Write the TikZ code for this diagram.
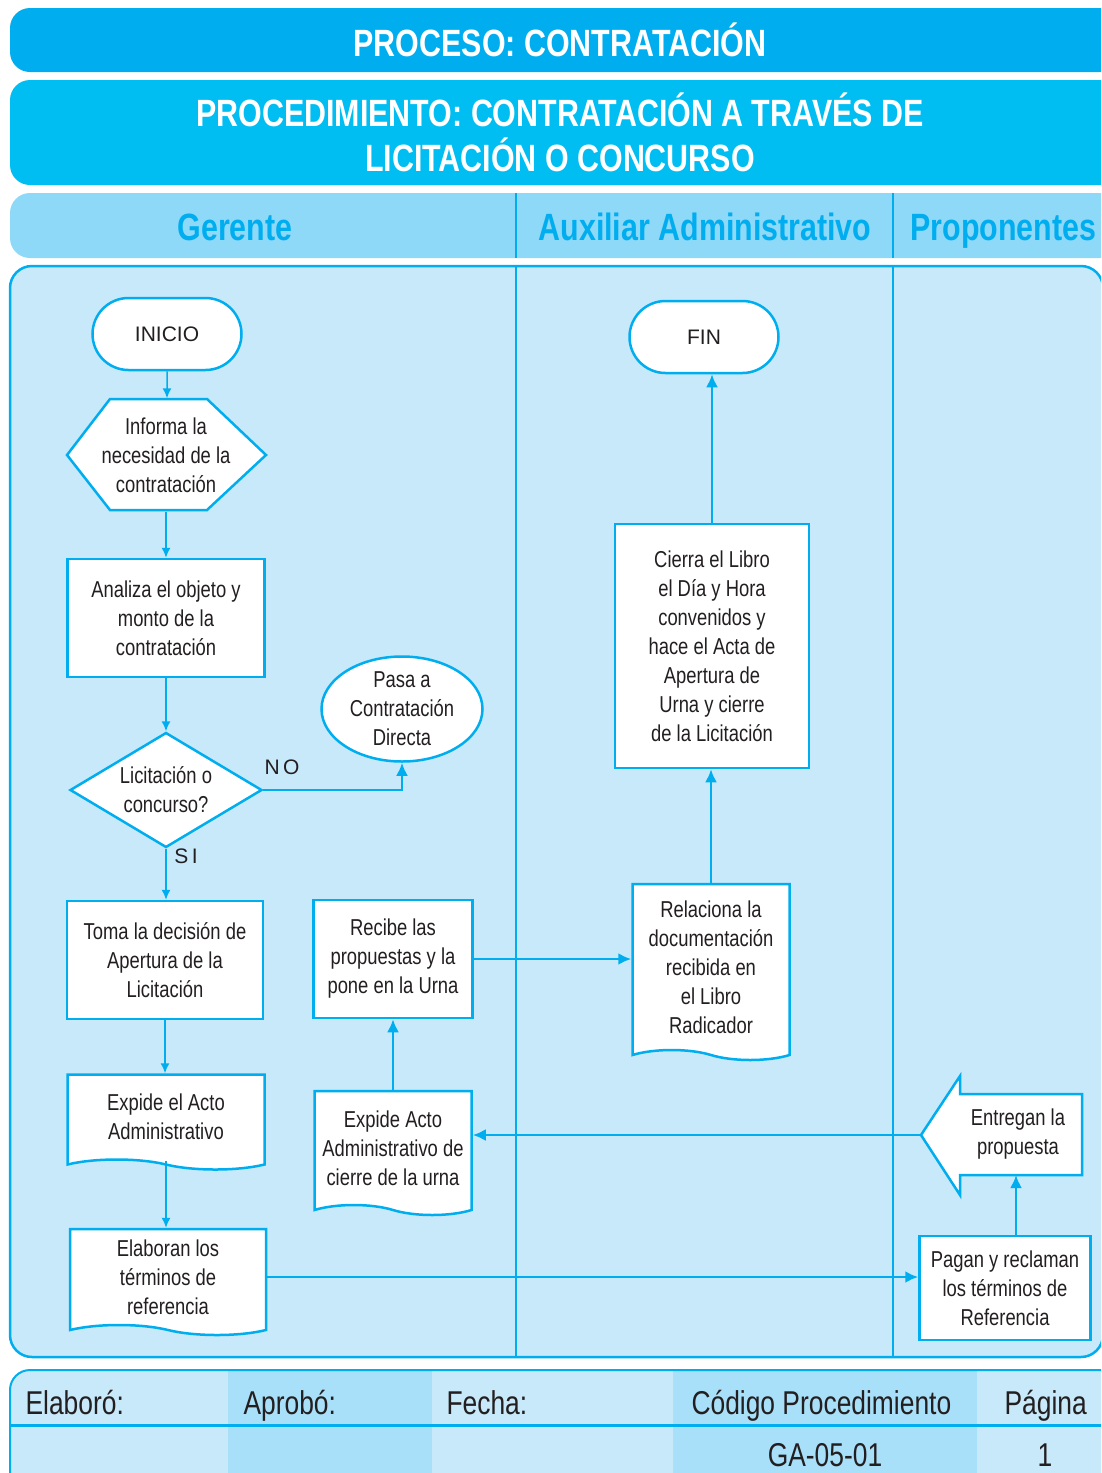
\documentclass[tikz,border=0pt]{standalone}
\usepackage{fontspec}
\setmainfont[FakeStretch=0.8]{Liberation Sans}
\newfontfamily\plainfont{Liberation Sans}
\usetikzlibrary{shapes.geometric,shapes.misc,shapes.symbols,arrows.meta}

\definecolor{cyanline}{HTML}{00AEEF}
\definecolor{headblue}{HTML}{00BEF2}
\definecolor{laneblue}{HTML}{8ED8F8}
\definecolor{bodyblue}{HTML}{C7E9FA}
\definecolor{cellblue}{HTML}{A9E0F9}
\definecolor{ink}{HTML}{231F20}

\newcommand{\flowtext}{\fontsize{23}{29}\selectfont}
\newcommand{\termtext}{\plainfont\fontsize{21}{25}\selectfont}
\newcommand{\headtext}{\bfseries\fontsize{38}{45}\selectfont}
\newcommand{\foottext}{\fontsize{33}{38}\selectfont}

\tikzset{
  box/.style={draw=cyanline, line width=2.5pt, fill=white, align=center,
    text=ink, font=\flowtext, inner sep=0pt},
  term/.style={box, rounded rectangle, minimum width=149pt, minimum height=72pt, font=\termtext},
  proc/.style={box, rectangle},
  doc/.style={box, tape, tape bend top=none, tape bend bottom=out and in, tape bend height=10pt},
  flow/.style={cyanline, line width=2.5pt, -{Latex[length=13pt,width=12pt]}},
  thinflow/.style={cyanline, line width=1.5pt, -{Latex[length=10pt,width=9pt]}},
  lanehead/.style={text=cyanline, font=\headtext, anchor=base},
  label/.style={text=ink, font=\termtext},
  foot/.style={text=ink, font=\foottext, anchor=base west},
}

\begin{document}
\begin{tikzpicture}[x=1pt,y=-1pt]
\useasboundingbox (0,0) rectangle (1101,1473);
\clip (0,0) rectangle (1101,1473);

% title bands
\fill[cyanline, rounded corners=20pt] (10,8) rectangle (1120,72);
\node[text=white, font=\headtext] (proceso) at (560,40) {PROCESO: CONTRATACIÓN};
\fill[headblue, rounded corners=20pt] (10,80) rectangle (1120,185);
\node[text=white, font=\headtext, align=center] (procedimiento) at (560,132)
  {PROCEDIMIENTO: CONTRATACIÓN A TRAVÉS DE\\LICITACIÓN O CONCURSO};

% lanes
\fill[laneblue, rounded corners=20pt] (10,193) rectangle (1120,258);
\draw[cyanline, line width=2.5pt, fill=bodyblue, rounded corners=22pt] (10,266) rectangle (1103,1357);
\foreach \x in {516,893} {
  \draw[cyanline, line width=2pt] (\x,193) -- (\x,258);
  \draw[cyanline, line width=2.5pt] (\x,266) -- (\x,1357);
}
\node[lanehead] (gerente) at (235,240) {Gerente};
\node[lanehead] (auxiliar) at (705,240) {Auxiliar Administrativo};
\node[lanehead, anchor=base west] (proponentes) at (907,240) {Proponentes};

% Gerente
\node[term] (inicio) at (167,334) {INICIO};
\draw[box] (110,399) -- (207,399) -- (266,455) -- (207,510) -- (110,510) -- (67,455) -- cycle;
\node[box, draw=none, fill=none, minimum width=199pt, minimum height=111pt] (informa) at (166,455)
  {Informa la\\necesidad de la\\contratación};
\node[proc, minimum width=197pt, minimum height=118pt] (analiza) at (166,618)
  {Analiza el objeto y\\monto de la\\contratación};
\node[box, diamond, aspect=1.67, minimum width=192pt, minimum height=115pt] (licita) at (166,790)
  {Licitación o\\concurso?};
\node[box, ellipse, minimum width=161pt, minimum height=105pt] (pasa) at (402,709)
  {Pasa a\\Contratación\\Directa};
\node[proc, minimum width=196pt, minimum height=118pt] (toma) at (165,960)
  {Toma la decisión de\\Apertura de la\\Licitación};
\node[doc, minimum width=197pt, minimum height=95pt] (expideel) at (166,1117)
  {Expide el Acto\\Administrativo};
\node[doc, minimum width=196pt, minimum height=106pt] (elaboran) at (168,1277)
  {Elaboran los\\términos de\\referencia};
\node[proc, minimum width=159pt, minimum height=118pt] (recibe) at (393,959)
  {Recibe las\\propuestas y la\\pone en la Urna};
\node[doc, minimum width=157pt, minimum height=124pt] (expideacto) at (393,1148)
  {Expide Acto\\Administrativo de\\cierre de la urna};

% Auxiliar Administrativo
\node[term] (fin) at (704,337) {FIN};
\node[proc, minimum width=194pt, minimum height=244pt] (cierra) at (712,646)
  {Cierra el Libro\\el Día y Hora\\convenidos y\\hace el Acta de\\Apertura de\\Urna y cierre\\de la Licitación};
\node[doc, minimum width=157pt, minimum height=176pt] (relaciona) at (711,967)
  {Relaciona la\\documentación\\recibida en\\el Libro\\Radicador};

% Proponentes
\node[proc, minimum width=171pt, minimum height=104pt] (pagan) at (1005,1288)
  {Pagan y reclaman\\los términos de\\Referencia};
\draw[box] (1082,1094) -- (1082,1175) -- (960,1175) -- (960,1195) -- (921,1135)
  -- (960,1076) -- (960,1094) -- cycle;
\node[text=ink, align=center, font=\flowtext] (entrega) at (1018,1134) {Entregan la\\propuesta};
\coordinate (entregatip) at (921,1135);
\coordinate (entregabase) at (1016,1175);

% connectors
\draw[thinflow] (inicio) -- (inicio |- informa.north);
\draw[thinflow] (informa.south) -- (analiza.north);
\draw[thinflow] (analiza.south) -- (licita.north);
\draw[flow] (licita.east) -| (pasa.south);
\node[label] (no) at (282,767) {N\,O};
\draw[thinflow] (licita.south) -- (licita.south |- toma.north);
\node[label] (si) at (186,856) {S\,I};
\draw[thinflow] (toma.south) -- (toma.south |- expideel.north);
\draw[thinflow] (expideel.south) -- (expideel.south |- elaboran.north);
\draw[flow] (elaboran.east) -- (elaboran.east -| pagan.west);
\draw[flow] (entregabase |- pagan.north) -- (entregabase);
\draw[flow] (entregatip) -- (entregatip -| expideacto.east);
\draw[flow] (expideacto.north) -- (recibe.south);
\draw[flow] (recibe.east) -- (recibe.east -| relaciona.west);
\draw[flow] (relaciona.north) -- (relaciona.north |- cierra.south);
\draw[flow] (cierra.north) -- (cierra.north |- fin.south);

% footer
\begin{scope}
\clip[rounded corners=20pt] (10,1370) rectangle (1120,1500);
\fill[bodyblue] (10,1370) rectangle (1120,1500);
\foreach \a/\b in {228/432,673/977}
  \fill[cellblue] (\a,1370) rectangle (\b,1500);
\end{scope}
\draw[cyanline, line width=2pt, rounded corners=20pt] (10,1500) -- (10,1370) -- (1120,1370);
\draw[cyanline, line width=3pt] (10,1425) -- (1101,1425);
\node[foot] (elaboro) at (22,1414) {Elaboró:};
\node[foot] (aprobo) at (240,1414) {Aprobó:};
\node[foot] (fecha) at (443,1414) {Fecha:};
\node[foot] (codigo) at (688,1414) {Código\ Procedimiento};
\node[foot] (pagina) at (1001,1414) {Página};
\node[foot, anchor=base] (gacode) at (825,1466) {GA-05-01};
\node[foot, anchor=base] (pagnum) at (1045,1466) {1};
\end{tikzpicture}
\end{document}
